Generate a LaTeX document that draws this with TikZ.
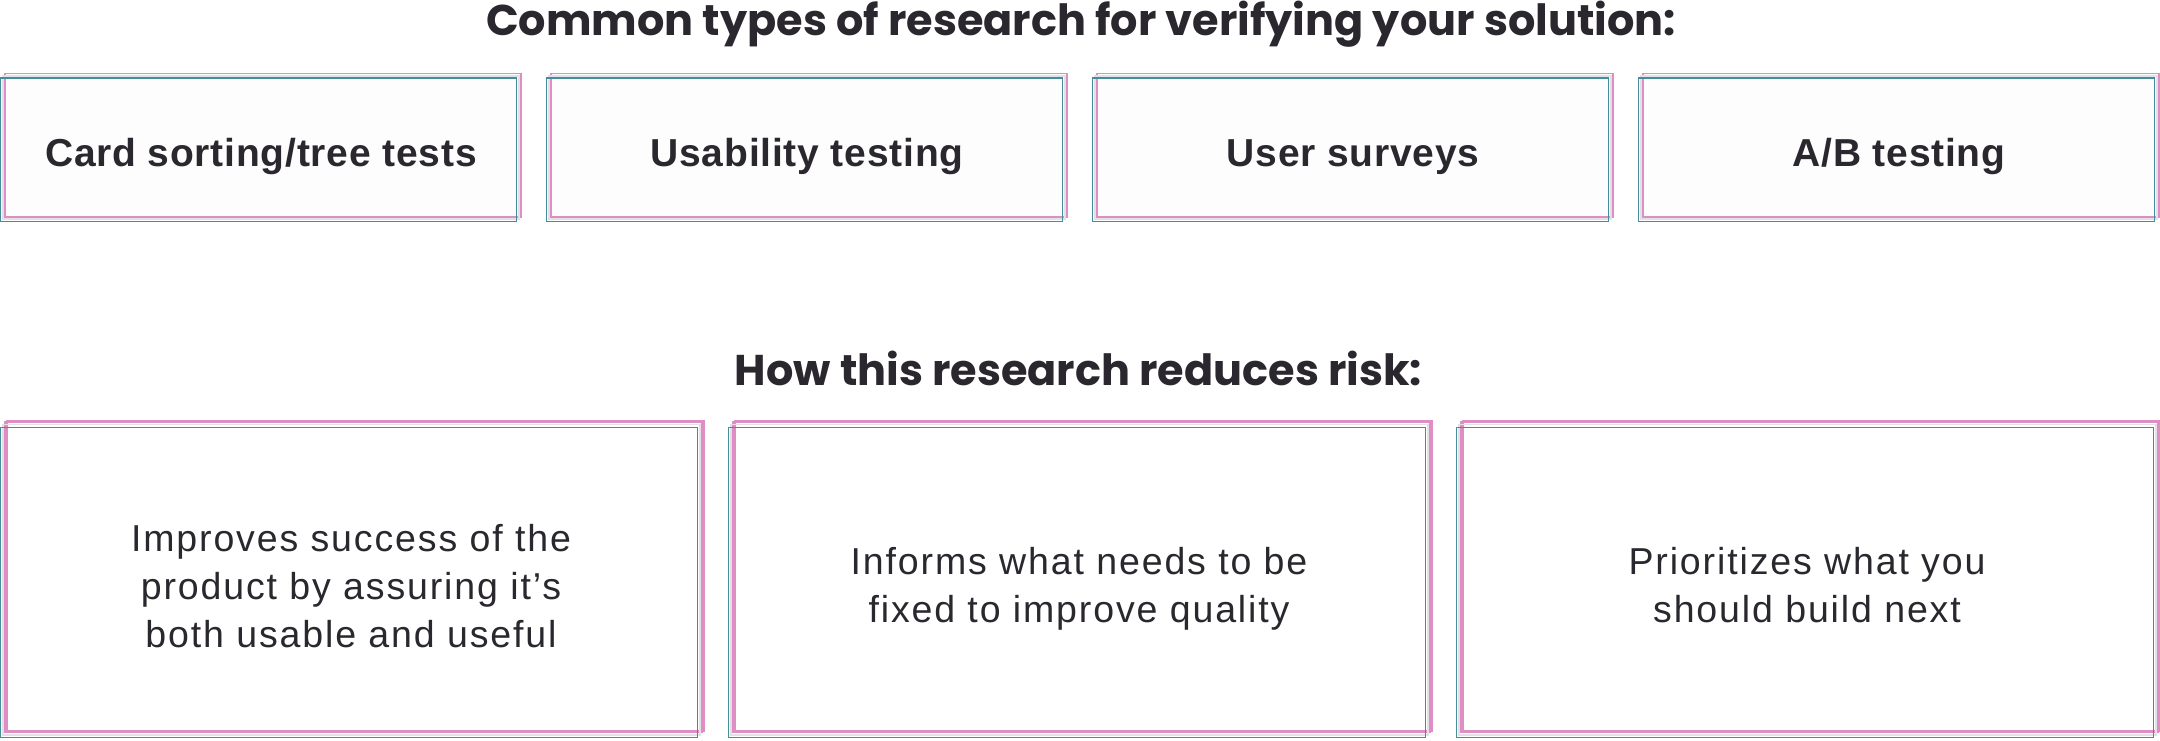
\documentclass[tikz,border=0pt]{standalone}
\usepackage{fontspec}
\setmainfont{Liberation Sans}
\newfontfamily\titlefont{Poppins}
\newfontfamily\labelfont{Liberation Sans}[LetterSpace=2]
\newfontfamily\bodyfont{Liberation Sans}[LetterSpace=5]
\definecolor{inkc}{HTML}{2A282E}
\definecolor{pinkc}{HTML}{DE8EC4}
\definecolor{grayc}{HTML}{E2E2E4}
\definecolor{tealc}{HTML}{448E9C}
\definecolor{boxfill}{HTML}{FEFDFE}
\tikzset{
  titlestyle/.style={inner sep=0pt, text=inkc, font=\titlefont\bfseries\fontsize{43}{50}\selectfont},
  labelstyle/.style={inner sep=0pt, text=inkc, font=\labelfont\bfseries\fontsize{39}{47}\selectfont},
  bodystyle/.style={inner sep=0pt, text=inkc, align=center, font=\bodyfont\fontsize{37.5}{48}\selectfont},
  pinkline/.style={draw=pinkc, line width=1.4pt},
  grayline/.style={draw=grayc, line width=1.6pt},
  tealline/.style={draw=tealc, line width=1.8pt},
}
\newcommand\mytopbox[3]{%
  \fill[boxfill] (#2-4.5,73.5) rectangle (#2+516,222);
  \draw[pinkline] (#2,73.5) rectangle (#2+516,217);
  \draw[grayline] (#2-2.25,75.75) rectangle (#2+513.75,219.25);
  \draw[tealline] (#2-4.5,78) rectangle (#2+511.5,221.5);
  \node[labelstyle, anchor=base] (#1) at (#2+256,166.5) {#3};
}
\newcommand\mybotbox[2]{%
  \fill[white] (#2-6.5,420.3) rectangle (#2+697,737.5);
  \draw[pinkline] (#2,420.3) rectangle (#2+697,731);
  \draw[pinkline] (#2-2,422) rectangle (#2+695,732.7);
  \draw[grayline] (#2-4,424.5) rectangle (#2+693,735.2);
  \draw[tealline] (#2-6.5,427.5) rectangle (#2+690.5,737.5);
}
\begin{document}
\begin{tikzpicture}[x=1pt,y=-1pt]
\useasboundingbox (0,0) rectangle (2160,740);
\fill[white] (0,0) rectangle (2160,740);
\node[titlestyle, anchor=base] (title1) at (1081,35) {Common types of research for verifying your solution:};
\node[titlestyle, anchor=base] (title2) at (1078.5,385) {How this research reduces risk:};
\mytopbox{card}{5}{Card sorting/tree tests}
\mytopbox{usab}{551}{Usability testing}
\mytopbox{surv}{1097}{User surveys}
\mytopbox{abt}{1643}{A/B testing}
\mybotbox{r1}{7}
\mybotbox{r2}{735}
\mybotbox{r3}{1463}
\node[bodystyle, anchor=base] (b1) at (351,647) {Improves success of the\\product by assuring it’s\\both usable and useful};
\node[bodystyle, anchor=base] (b2) at (1079,622) {Informs what needs to be\\fixed to improve quality};
\node[bodystyle, anchor=base] (b3) at (1807,622) {Prioritizes what you\\should build next};
\end{tikzpicture}
\end{document}
